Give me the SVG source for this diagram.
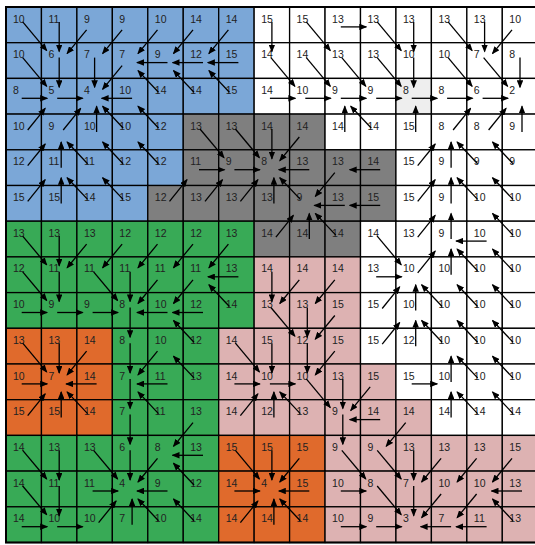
<svg xmlns="http://www.w3.org/2000/svg" width="535" height="545" viewBox="0 0 535 545">
<style>
.c rect{stroke:#000;stroke-width:1.3}
.b rect{fill:#7ba7d7}.g rect{fill:#7f7f7f}.w rect{fill:#fff}.n rect{fill:#38aa56}.o rect{fill:#e06a2c}.p rect{fill:#ddb2b2}.l rect{fill:#eeeeee}
text{font-family:"Liberation Sans",Arial,sans-serif;font-size:10.5px;fill:#222}
#arrows path{fill:none;stroke:#000;stroke-width:1.3;marker-end:url(#ah)}
</style>
<defs><marker id="ah" viewBox="0 0 8 6.5" refX="7" refY="3.25" markerWidth="8" markerHeight="6.5" markerUnits="userSpaceOnUse" orient="auto"><path d="M0 0L8 3.25L0 6.5z" fill="#000"/></marker></defs>
<rect width="535" height="545" fill="#fff"/>
<g id="cells">
<g id="n0_0" class="c b" transform="translate(6 7)"><rect width="35.45" height="35.7"/><text x="7" y="15.5">10</text></g>
<g id="n0_1" class="c b" transform="translate(41.45 7)"><rect width="35.45" height="35.7"/><text x="7" y="15.5">11</text></g>
<g id="n0_2" class="c b" transform="translate(76.9 7)"><rect width="35.45" height="35.7"/><text x="7" y="15.5">9</text></g>
<g id="n0_3" class="c b" transform="translate(112.35 7)"><rect width="35.45" height="35.7"/><text x="7" y="15.5">9</text></g>
<g id="n0_4" class="c b" transform="translate(147.8 7)"><rect width="35.45" height="35.7"/><text x="7" y="15.5">10</text></g>
<g id="n0_5" class="c b" transform="translate(183.25 7)"><rect width="35.45" height="35.7"/><text x="7" y="15.5">14</text></g>
<g id="n0_6" class="c b" transform="translate(218.7 7)"><rect width="35.45" height="35.7"/><text x="7" y="15.5">14</text></g>
<g id="n0_7" class="c w" transform="translate(254.15 7)"><rect width="35.45" height="35.7"/><text x="7" y="15.5">15</text></g>
<g id="n0_8" class="c w" transform="translate(289.6 7)"><rect width="35.45" height="35.7"/><text x="7" y="15.5">15</text></g>
<g id="n0_9" class="c w" transform="translate(325.05 7)"><rect width="35.45" height="35.7"/><text x="7" y="15.5">13</text></g>
<g id="n0_10" class="c w" transform="translate(360.5 7)"><rect width="35.45" height="35.7"/><text x="7" y="15.5">13</text></g>
<g id="n0_11" class="c w" transform="translate(395.95 7)"><rect width="35.45" height="35.7"/><text x="7" y="15.5">13</text></g>
<g id="n0_12" class="c w" transform="translate(431.4 7)"><rect width="35.45" height="35.7"/><text x="7" y="15.5">13</text></g>
<g id="n0_13" class="c w" transform="translate(466.85 7)"><rect width="35.45" height="35.7"/><text x="7" y="15.5">13</text></g>
<g id="n0_14" class="c w" transform="translate(502.3 7)"><rect width="35.45" height="35.7"/><text x="7" y="15.5">10</text></g>

<g id="n1_0" class="c b" transform="translate(6 42.7)"><rect width="35.45" height="35.7"/><text x="7" y="15.5">10</text></g>
<g id="n1_1" class="c b" transform="translate(41.45 42.7)"><rect width="35.45" height="35.7"/><text x="7" y="15.5">6</text></g>
<g id="n1_2" class="c b" transform="translate(76.9 42.7)"><rect width="35.45" height="35.7"/><text x="7" y="15.5">7</text></g>
<g id="n1_3" class="c b" transform="translate(112.35 42.7)"><rect width="35.45" height="35.7"/><text x="7" y="15.5">7</text></g>
<g id="n1_4" class="c b" transform="translate(147.8 42.7)"><rect width="35.45" height="35.7"/><text x="7" y="15.5">9</text></g>
<g id="n1_5" class="c b" transform="translate(183.25 42.7)"><rect width="35.45" height="35.7"/><text x="7" y="15.5">12</text></g>
<g id="n1_6" class="c b" transform="translate(218.7 42.7)"><rect width="35.45" height="35.7"/><text x="7" y="15.5">15</text></g>
<g id="n1_7" class="c w" transform="translate(254.15 42.7)"><rect width="35.45" height="35.7"/><text x="7" y="15.5">14</text></g>
<g id="n1_8" class="c w" transform="translate(289.6 42.7)"><rect width="35.45" height="35.7"/><text x="7" y="15.5">14</text></g>
<g id="n1_9" class="c w" transform="translate(325.05 42.7)"><rect width="35.45" height="35.7"/><text x="7" y="15.5">13</text></g>
<g id="n1_10" class="c w" transform="translate(360.5 42.7)"><rect width="35.45" height="35.7"/><text x="7" y="15.5">13</text></g>
<g id="n1_11" class="c w" transform="translate(395.95 42.7)"><rect width="35.45" height="35.7"/><text x="7" y="15.5">10</text></g>
<g id="n1_12" class="c w" transform="translate(431.4 42.7)"><rect width="35.45" height="35.7"/><text x="7" y="15.5">10</text></g>
<g id="n1_13" class="c w" transform="translate(466.85 42.7)"><rect width="35.45" height="35.7"/><text x="7" y="15.5">7</text></g>
<g id="n1_14" class="c w" transform="translate(502.3 42.7)"><rect width="35.45" height="35.7"/><text x="7" y="15.5">8</text></g>

<g id="n2_0" class="c b" transform="translate(6 78.4)"><rect width="35.45" height="35.7"/><text x="7" y="15.5">8</text></g>
<g id="n2_1" class="c b" transform="translate(41.45 78.4)"><rect width="35.45" height="35.7"/><text x="7" y="15.5">5</text></g>
<g id="n2_2" class="c b" transform="translate(76.9 78.4)"><rect width="35.45" height="35.7"/><text x="7" y="15.5">4</text></g>
<g id="n2_3" class="c b" transform="translate(112.35 78.4)"><rect width="35.45" height="35.7"/><text x="7" y="15.5">10</text></g>
<g id="n2_4" class="c b" transform="translate(147.8 78.4)"><rect width="35.45" height="35.7"/><text x="7" y="15.5">14</text></g>
<g id="n2_5" class="c b" transform="translate(183.25 78.4)"><rect width="35.45" height="35.7"/><text x="7" y="15.5">14</text></g>
<g id="n2_6" class="c b" transform="translate(218.7 78.4)"><rect width="35.45" height="35.7"/><text x="7" y="15.5">15</text></g>
<g id="n2_7" class="c w" transform="translate(254.15 78.4)"><rect width="35.45" height="35.7"/><text x="7" y="15.5">14</text></g>
<g id="n2_8" class="c w" transform="translate(289.6 78.4)"><rect width="35.45" height="35.7"/><text x="7" y="15.5">10</text></g>
<g id="n2_9" class="c w" transform="translate(325.05 78.4)"><rect width="35.45" height="35.7"/><text x="7" y="15.5">9</text></g>
<g id="n2_10" class="c w" transform="translate(360.5 78.4)"><rect width="35.45" height="35.7"/><text x="7" y="15.5">9</text></g>
<g id="n2_11" class="c l" transform="translate(395.95 78.4)"><rect width="35.45" height="35.7"/><text x="7" y="15.5">8</text></g>
<g id="n2_12" class="c w" transform="translate(431.4 78.4)"><rect width="35.45" height="35.7"/><text x="7" y="15.5">8</text></g>
<g id="n2_13" class="c w" transform="translate(466.85 78.4)"><rect width="35.45" height="35.7"/><text x="7" y="15.5">6</text></g>
<g id="n2_14" class="c w" transform="translate(502.3 78.4)"><rect width="35.45" height="35.7"/><text x="7" y="15.5">2</text></g>

<g id="n3_0" class="c b" transform="translate(6 114.1)"><rect width="35.45" height="35.7"/><text x="7" y="15.5">10</text></g>
<g id="n3_1" class="c b" transform="translate(41.45 114.1)"><rect width="35.45" height="35.7"/><text x="7" y="15.5">9</text></g>
<g id="n3_2" class="c b" transform="translate(76.9 114.1)"><rect width="35.45" height="35.7"/><text x="7" y="15.5">10</text></g>
<g id="n3_3" class="c b" transform="translate(112.35 114.1)"><rect width="35.45" height="35.7"/><text x="7" y="15.5">10</text></g>
<g id="n3_4" class="c b" transform="translate(147.8 114.1)"><rect width="35.45" height="35.7"/><text x="7" y="15.5">12</text></g>
<g id="n3_5" class="c g" transform="translate(183.25 114.1)"><rect width="35.45" height="35.7"/><text x="7" y="15.5">13</text></g>
<g id="n3_6" class="c g" transform="translate(218.7 114.1)"><rect width="35.45" height="35.7"/><text x="7" y="15.5">13</text></g>
<g id="n3_7" class="c g" transform="translate(254.15 114.1)"><rect width="35.45" height="35.7"/><text x="7" y="15.5">14</text></g>
<g id="n3_8" class="c g" transform="translate(289.6 114.1)"><rect width="35.45" height="35.7"/><text x="7" y="15.5">14</text></g>
<g id="n3_9" class="c w" transform="translate(325.05 114.1)"><rect width="35.45" height="35.7"/><text x="7" y="15.5">14</text></g>
<g id="n3_10" class="c w" transform="translate(360.5 114.1)"><rect width="35.45" height="35.7"/><text x="7" y="15.5">14</text></g>
<g id="n3_11" class="c w" transform="translate(395.95 114.1)"><rect width="35.45" height="35.7"/><text x="7" y="15.5">15</text></g>
<g id="n3_12" class="c w" transform="translate(431.4 114.1)"><rect width="35.45" height="35.7"/><text x="7" y="15.5">8</text></g>
<g id="n3_13" class="c w" transform="translate(466.85 114.1)"><rect width="35.45" height="35.7"/><text x="7" y="15.5">8</text></g>
<g id="n3_14" class="c w" transform="translate(502.3 114.1)"><rect width="35.45" height="35.7"/><text x="7" y="15.5">9</text></g>

<g id="n4_0" class="c b" transform="translate(6 149.8)"><rect width="35.45" height="35.7"/><text x="7" y="15.5">12</text></g>
<g id="n4_1" class="c b" transform="translate(41.45 149.8)"><rect width="35.45" height="35.7"/><text x="7" y="15.5">11</text></g>
<g id="n4_2" class="c b" transform="translate(76.9 149.8)"><rect width="35.45" height="35.7"/><text x="7" y="15.5">11</text></g>
<g id="n4_3" class="c b" transform="translate(112.35 149.8)"><rect width="35.45" height="35.7"/><text x="7" y="15.5">12</text></g>
<g id="n4_4" class="c b" transform="translate(147.8 149.8)"><rect width="35.45" height="35.7"/><text x="7" y="15.5">12</text></g>
<g id="n4_5" class="c g" transform="translate(183.25 149.8)"><rect width="35.45" height="35.7"/><text x="7" y="15.5">11</text></g>
<g id="n4_6" class="c g" transform="translate(218.7 149.8)"><rect width="35.45" height="35.7"/><text x="7" y="15.5">9</text></g>
<g id="n4_7" class="c g" transform="translate(254.15 149.8)"><rect width="35.45" height="35.7"/><text x="7" y="15.5">8</text></g>
<g id="n4_8" class="c g" transform="translate(289.6 149.8)"><rect width="35.45" height="35.7"/><text x="7" y="15.5">13</text></g>
<g id="n4_9" class="c g" transform="translate(325.05 149.8)"><rect width="35.45" height="35.7"/><text x="7" y="15.5">13</text></g>
<g id="n4_10" class="c g" transform="translate(360.5 149.8)"><rect width="35.45" height="35.7"/><text x="7" y="15.5">14</text></g>
<g id="n4_11" class="c w" transform="translate(395.95 149.8)"><rect width="35.45" height="35.7"/><text x="7" y="15.5">15</text></g>
<g id="n4_12" class="c w" transform="translate(431.4 149.8)"><rect width="35.45" height="35.7"/><text x="7" y="15.5">9</text></g>
<g id="n4_13" class="c w" transform="translate(466.85 149.8)"><rect width="35.45" height="35.7"/><text x="7" y="15.5">9</text></g>
<g id="n4_14" class="c w" transform="translate(502.3 149.8)"><rect width="35.45" height="35.7"/><text x="7" y="15.5">9</text></g>

<g id="n5_0" class="c b" transform="translate(6 185.5)"><rect width="35.45" height="35.7"/><text x="7" y="15.5">15</text></g>
<g id="n5_1" class="c b" transform="translate(41.45 185.5)"><rect width="35.45" height="35.7"/><text x="7" y="15.5">15</text></g>
<g id="n5_2" class="c b" transform="translate(76.9 185.5)"><rect width="35.45" height="35.7"/><text x="7" y="15.5">14</text></g>
<g id="n5_3" class="c b" transform="translate(112.35 185.5)"><rect width="35.45" height="35.7"/><text x="7" y="15.5">15</text></g>
<g id="n5_4" class="c g" transform="translate(147.8 185.5)"><rect width="35.45" height="35.7"/><text x="7" y="15.5">12</text></g>
<g id="n5_5" class="c g" transform="translate(183.25 185.5)"><rect width="35.45" height="35.7"/><text x="7" y="15.5">13</text></g>
<g id="n5_6" class="c g" transform="translate(218.7 185.5)"><rect width="35.45" height="35.7"/><text x="7" y="15.5">13</text></g>
<g id="n5_7" class="c g" transform="translate(254.15 185.5)"><rect width="35.45" height="35.7"/><text x="7" y="15.5">13</text></g>
<g id="n5_8" class="c g" transform="translate(289.6 185.5)"><rect width="35.45" height="35.7"/><text x="7" y="15.5">9</text></g>
<g id="n5_9" class="c g" transform="translate(325.05 185.5)"><rect width="35.45" height="35.7"/><text x="7" y="15.5">13</text></g>
<g id="n5_10" class="c g" transform="translate(360.5 185.5)"><rect width="35.45" height="35.7"/><text x="7" y="15.5">15</text></g>
<g id="n5_11" class="c w" transform="translate(395.95 185.5)"><rect width="35.45" height="35.7"/><text x="7" y="15.5">15</text></g>
<g id="n5_12" class="c w" transform="translate(431.4 185.5)"><rect width="35.45" height="35.7"/><text x="7" y="15.5">9</text></g>
<g id="n5_13" class="c w" transform="translate(466.85 185.5)"><rect width="35.45" height="35.7"/><text x="7" y="15.5">10</text></g>
<g id="n5_14" class="c w" transform="translate(502.3 185.5)"><rect width="35.45" height="35.7"/><text x="7" y="15.5">10</text></g>

<g id="n6_0" class="c n" transform="translate(6 221.2)"><rect width="35.45" height="35.7"/><text x="7" y="15.5">13</text></g>
<g id="n6_1" class="c n" transform="translate(41.45 221.2)"><rect width="35.45" height="35.7"/><text x="7" y="15.5">13</text></g>
<g id="n6_2" class="c n" transform="translate(76.9 221.2)"><rect width="35.45" height="35.7"/><text x="7" y="15.5">13</text></g>
<g id="n6_3" class="c n" transform="translate(112.35 221.2)"><rect width="35.45" height="35.7"/><text x="7" y="15.5">12</text></g>
<g id="n6_4" class="c n" transform="translate(147.8 221.2)"><rect width="35.45" height="35.7"/><text x="7" y="15.5">12</text></g>
<g id="n6_5" class="c n" transform="translate(183.25 221.2)"><rect width="35.45" height="35.7"/><text x="7" y="15.5">12</text></g>
<g id="n6_6" class="c n" transform="translate(218.7 221.2)"><rect width="35.45" height="35.7"/><text x="7" y="15.5">13</text></g>
<g id="n6_7" class="c g" transform="translate(254.15 221.2)"><rect width="35.45" height="35.7"/><text x="7" y="15.5">14</text></g>
<g id="n6_8" class="c g" transform="translate(289.6 221.2)"><rect width="35.45" height="35.7"/><text x="7" y="15.5">14</text></g>
<g id="n6_9" class="c g" transform="translate(325.05 221.2)"><rect width="35.45" height="35.7"/><text x="7" y="15.5">14</text></g>
<g id="n6_10" class="c w" transform="translate(360.5 221.2)"><rect width="35.45" height="35.7"/><text x="7" y="15.5">14</text></g>
<g id="n6_11" class="c w" transform="translate(395.95 221.2)"><rect width="35.45" height="35.7"/><text x="7" y="15.5">13</text></g>
<g id="n6_12" class="c w" transform="translate(431.4 221.2)"><rect width="35.45" height="35.7"/><text x="7" y="15.5">9</text></g>
<g id="n6_13" class="c w" transform="translate(466.85 221.2)"><rect width="35.45" height="35.7"/><text x="7" y="15.5">10</text></g>
<g id="n6_14" class="c w" transform="translate(502.3 221.2)"><rect width="35.45" height="35.7"/><text x="7" y="15.5">10</text></g>

<g id="n7_0" class="c n" transform="translate(6 256.9)"><rect width="35.45" height="35.7"/><text x="7" y="15.5">12</text></g>
<g id="n7_1" class="c n" transform="translate(41.45 256.9)"><rect width="35.45" height="35.7"/><text x="7" y="15.5">11</text></g>
<g id="n7_2" class="c n" transform="translate(76.9 256.9)"><rect width="35.45" height="35.7"/><text x="7" y="15.5">11</text></g>
<g id="n7_3" class="c n" transform="translate(112.35 256.9)"><rect width="35.45" height="35.7"/><text x="7" y="15.5">11</text></g>
<g id="n7_4" class="c n" transform="translate(147.8 256.9)"><rect width="35.45" height="35.7"/><text x="7" y="15.5">11</text></g>
<g id="n7_5" class="c n" transform="translate(183.25 256.9)"><rect width="35.45" height="35.7"/><text x="7" y="15.5">11</text></g>
<g id="n7_6" class="c n" transform="translate(218.7 256.9)"><rect width="35.45" height="35.7"/><text x="7" y="15.5">13</text></g>
<g id="n7_7" class="c p" transform="translate(254.15 256.9)"><rect width="35.45" height="35.7"/><text x="7" y="15.5">14</text></g>
<g id="n7_8" class="c p" transform="translate(289.6 256.9)"><rect width="35.45" height="35.7"/><text x="7" y="15.5">14</text></g>
<g id="n7_9" class="c p" transform="translate(325.05 256.9)"><rect width="35.45" height="35.7"/><text x="7" y="15.5">14</text></g>
<g id="n7_10" class="c w" transform="translate(360.5 256.9)"><rect width="35.45" height="35.7"/><text x="7" y="15.5">13</text></g>
<g id="n7_11" class="c w" transform="translate(395.95 256.9)"><rect width="35.45" height="35.7"/><text x="7" y="15.5">10</text></g>
<g id="n7_12" class="c w" transform="translate(431.4 256.9)"><rect width="35.45" height="35.7"/><text x="7" y="15.5">10</text></g>
<g id="n7_13" class="c w" transform="translate(466.85 256.9)"><rect width="35.45" height="35.7"/><text x="7" y="15.5">10</text></g>
<g id="n7_14" class="c w" transform="translate(502.3 256.9)"><rect width="35.45" height="35.7"/><text x="7" y="15.5">10</text></g>

<g id="n8_0" class="c n" transform="translate(6 292.6)"><rect width="35.45" height="35.7"/><text x="7" y="15.5">10</text></g>
<g id="n8_1" class="c n" transform="translate(41.45 292.6)"><rect width="35.45" height="35.7"/><text x="7" y="15.5">9</text></g>
<g id="n8_2" class="c n" transform="translate(76.9 292.6)"><rect width="35.45" height="35.7"/><text x="7" y="15.5">9</text></g>
<g id="n8_3" class="c n" transform="translate(112.35 292.6)"><rect width="35.45" height="35.7"/><text x="7" y="15.5">8</text></g>
<g id="n8_4" class="c n" transform="translate(147.8 292.6)"><rect width="35.45" height="35.7"/><text x="7" y="15.5">10</text></g>
<g id="n8_5" class="c n" transform="translate(183.25 292.6)"><rect width="35.45" height="35.7"/><text x="7" y="15.5">12</text></g>
<g id="n8_6" class="c n" transform="translate(218.7 292.6)"><rect width="35.45" height="35.7"/><text x="7" y="15.5">14</text></g>
<g id="n8_7" class="c p" transform="translate(254.15 292.6)"><rect width="35.45" height="35.7"/><text x="7" y="15.5">13</text></g>
<g id="n8_8" class="c p" transform="translate(289.6 292.6)"><rect width="35.45" height="35.7"/><text x="7" y="15.5">13</text></g>
<g id="n8_9" class="c p" transform="translate(325.05 292.6)"><rect width="35.45" height="35.7"/><text x="7" y="15.5">15</text></g>
<g id="n8_10" class="c w" transform="translate(360.5 292.6)"><rect width="35.45" height="35.7"/><text x="7" y="15.5">15</text></g>
<g id="n8_11" class="c w" transform="translate(395.95 292.6)"><rect width="35.45" height="35.7"/><text x="7" y="15.5">10</text></g>
<g id="n8_12" class="c w" transform="translate(431.4 292.6)"><rect width="35.45" height="35.7"/><text x="7" y="15.5">10</text></g>
<g id="n8_13" class="c w" transform="translate(466.85 292.6)"><rect width="35.45" height="35.7"/><text x="7" y="15.5">10</text></g>
<g id="n8_14" class="c w" transform="translate(502.3 292.6)"><rect width="35.45" height="35.7"/><text x="7" y="15.5">10</text></g>

<g id="n9_0" class="c o" transform="translate(6 328.3)"><rect width="35.45" height="35.7"/><text x="7" y="15.5">13</text></g>
<g id="n9_1" class="c o" transform="translate(41.45 328.3)"><rect width="35.45" height="35.7"/><text x="7" y="15.5">13</text></g>
<g id="n9_2" class="c o" transform="translate(76.9 328.3)"><rect width="35.45" height="35.7"/><text x="7" y="15.5">14</text></g>
<g id="n9_3" class="c n" transform="translate(112.35 328.3)"><rect width="35.45" height="35.7"/><text x="7" y="15.5">8</text></g>
<g id="n9_4" class="c n" transform="translate(147.8 328.3)"><rect width="35.45" height="35.7"/><text x="7" y="15.5">10</text></g>
<g id="n9_5" class="c n" transform="translate(183.25 328.3)"><rect width="35.45" height="35.7"/><text x="7" y="15.5">12</text></g>
<g id="n9_6" class="c p" transform="translate(218.7 328.3)"><rect width="35.45" height="35.7"/><text x="7" y="15.5">14</text></g>
<g id="n9_7" class="c p" transform="translate(254.15 328.3)"><rect width="35.45" height="35.7"/><text x="7" y="15.5">15</text></g>
<g id="n9_8" class="c p" transform="translate(289.6 328.3)"><rect width="35.45" height="35.7"/><text x="7" y="15.5">12</text></g>
<g id="n9_9" class="c p" transform="translate(325.05 328.3)"><rect width="35.45" height="35.7"/><text x="7" y="15.5">15</text></g>
<g id="n9_10" class="c w" transform="translate(360.5 328.3)"><rect width="35.45" height="35.7"/><text x="7" y="15.5">15</text></g>
<g id="n9_11" class="c w" transform="translate(395.95 328.3)"><rect width="35.45" height="35.7"/><text x="7" y="15.5">12</text></g>
<g id="n9_12" class="c w" transform="translate(431.4 328.3)"><rect width="35.45" height="35.7"/><text x="7" y="15.5">10</text></g>
<g id="n9_13" class="c w" transform="translate(466.85 328.3)"><rect width="35.45" height="35.7"/><text x="7" y="15.5">10</text></g>
<g id="n9_14" class="c w" transform="translate(502.3 328.3)"><rect width="35.45" height="35.7"/><text x="7" y="15.5">10</text></g>

<g id="n10_0" class="c o" transform="translate(6 364)"><rect width="35.45" height="35.7"/><text x="7" y="15.5">10</text></g>
<g id="n10_1" class="c o" transform="translate(41.45 364)"><rect width="35.45" height="35.7"/><text x="7" y="15.5">7</text></g>
<g id="n10_2" class="c o" transform="translate(76.9 364)"><rect width="35.45" height="35.7"/><text x="7" y="15.5">14</text></g>
<g id="n10_3" class="c n" transform="translate(112.35 364)"><rect width="35.45" height="35.7"/><text x="7" y="15.5">7</text></g>
<g id="n10_4" class="c n" transform="translate(147.8 364)"><rect width="35.45" height="35.7"/><text x="7" y="15.5">11</text></g>
<g id="n10_5" class="c n" transform="translate(183.25 364)"><rect width="35.45" height="35.7"/><text x="7" y="15.5">13</text></g>
<g id="n10_6" class="c p" transform="translate(218.7 364)"><rect width="35.45" height="35.7"/><text x="7" y="15.5">14</text></g>
<g id="n10_7" class="c p" transform="translate(254.15 364)"><rect width="35.45" height="35.7"/><text x="7" y="15.5">10</text></g>
<g id="n10_8" class="c p" transform="translate(289.6 364)"><rect width="35.45" height="35.7"/><text x="7" y="15.5">10</text></g>
<g id="n10_9" class="c p" transform="translate(325.05 364)"><rect width="35.45" height="35.7"/><text x="7" y="15.5">13</text></g>
<g id="n10_10" class="c p" transform="translate(360.5 364)"><rect width="35.45" height="35.7"/><text x="7" y="15.5">15</text></g>
<g id="n10_11" class="c w" transform="translate(395.95 364)"><rect width="35.45" height="35.7"/><text x="7" y="15.5">15</text></g>
<g id="n10_12" class="c w" transform="translate(431.4 364)"><rect width="35.45" height="35.7"/><text x="7" y="15.5">10</text></g>
<g id="n10_13" class="c w" transform="translate(466.85 364)"><rect width="35.45" height="35.7"/><text x="7" y="15.5">10</text></g>
<g id="n10_14" class="c w" transform="translate(502.3 364)"><rect width="35.45" height="35.7"/><text x="7" y="15.5">10</text></g>

<g id="n11_0" class="c o" transform="translate(6 399.7)"><rect width="35.45" height="35.7"/><text x="7" y="15.5">15</text></g>
<g id="n11_1" class="c o" transform="translate(41.45 399.7)"><rect width="35.45" height="35.7"/><text x="7" y="15.5">15</text></g>
<g id="n11_2" class="c o" transform="translate(76.9 399.7)"><rect width="35.45" height="35.7"/><text x="7" y="15.5">14</text></g>
<g id="n11_3" class="c n" transform="translate(112.35 399.7)"><rect width="35.45" height="35.7"/><text x="7" y="15.5">7</text></g>
<g id="n11_4" class="c n" transform="translate(147.8 399.7)"><rect width="35.45" height="35.7"/><text x="7" y="15.5">11</text></g>
<g id="n11_5" class="c n" transform="translate(183.25 399.7)"><rect width="35.45" height="35.7"/><text x="7" y="15.5">13</text></g>
<g id="n11_6" class="c p" transform="translate(218.7 399.7)"><rect width="35.45" height="35.7"/><text x="7" y="15.5">14</text></g>
<g id="n11_7" class="c p" transform="translate(254.15 399.7)"><rect width="35.45" height="35.7"/><text x="7" y="15.5">12</text></g>
<g id="n11_8" class="c p" transform="translate(289.6 399.7)"><rect width="35.45" height="35.7"/><text x="7" y="15.5">13</text></g>
<g id="n11_9" class="c p" transform="translate(325.05 399.7)"><rect width="35.45" height="35.7"/><text x="7" y="15.5">9</text></g>
<g id="n11_10" class="c p" transform="translate(360.5 399.7)"><rect width="35.45" height="35.7"/><text x="7" y="15.5">14</text></g>
<g id="n11_11" class="c p" transform="translate(395.95 399.7)"><rect width="35.45" height="35.7"/><text x="7" y="15.5">14</text></g>
<g id="n11_12" class="c w" transform="translate(431.4 399.7)"><rect width="35.45" height="35.7"/><text x="7" y="15.5">14</text></g>
<g id="n11_13" class="c w" transform="translate(466.85 399.7)"><rect width="35.45" height="35.7"/><text x="7" y="15.5">14</text></g>
<g id="n11_14" class="c w" transform="translate(502.3 399.7)"><rect width="35.45" height="35.7"/><text x="7" y="15.5">14</text></g>

<g id="n12_0" class="c n" transform="translate(6 435.4)"><rect width="35.45" height="35.7"/><text x="7" y="15.5">14</text></g>
<g id="n12_1" class="c n" transform="translate(41.45 435.4)"><rect width="35.45" height="35.7"/><text x="7" y="15.5">13</text></g>
<g id="n12_2" class="c n" transform="translate(76.9 435.4)"><rect width="35.45" height="35.7"/><text x="7" y="15.5">13</text></g>
<g id="n12_3" class="c n" transform="translate(112.35 435.4)"><rect width="35.45" height="35.7"/><text x="7" y="15.5">6</text></g>
<g id="n12_4" class="c n" transform="translate(147.8 435.4)"><rect width="35.45" height="35.7"/><text x="7" y="15.5">8</text></g>
<g id="n12_5" class="c n" transform="translate(183.25 435.4)"><rect width="35.45" height="35.7"/><text x="7" y="15.5">13</text></g>
<g id="n12_6" class="c o" transform="translate(218.7 435.4)"><rect width="35.45" height="35.7"/><text x="7" y="15.5">15</text></g>
<g id="n12_7" class="c o" transform="translate(254.15 435.4)"><rect width="35.45" height="35.7"/><text x="7" y="15.5">15</text></g>
<g id="n12_8" class="c o" transform="translate(289.6 435.4)"><rect width="35.45" height="35.7"/><text x="7" y="15.5">15</text></g>
<g id="n12_9" class="c p" transform="translate(325.05 435.4)"><rect width="35.45" height="35.7"/><text x="7" y="15.5">9</text></g>
<g id="n12_10" class="c p" transform="translate(360.5 435.4)"><rect width="35.45" height="35.7"/><text x="7" y="15.5">9</text></g>
<g id="n12_11" class="c p" transform="translate(395.95 435.4)"><rect width="35.45" height="35.7"/><text x="7" y="15.5">13</text></g>
<g id="n12_12" class="c p" transform="translate(431.4 435.4)"><rect width="35.45" height="35.7"/><text x="7" y="15.5">13</text></g>
<g id="n12_13" class="c p" transform="translate(466.85 435.4)"><rect width="35.45" height="35.7"/><text x="7" y="15.5">13</text></g>
<g id="n12_14" class="c p" transform="translate(502.3 435.4)"><rect width="35.45" height="35.7"/><text x="7" y="15.5">15</text></g>

<g id="n13_0" class="c n" transform="translate(6 471.1)"><rect width="35.45" height="35.7"/><text x="7" y="15.5">14</text></g>
<g id="n13_1" class="c n" transform="translate(41.45 471.1)"><rect width="35.45" height="35.7"/><text x="7" y="15.5">11</text></g>
<g id="n13_2" class="c n" transform="translate(76.9 471.1)"><rect width="35.45" height="35.7"/><text x="7" y="15.5">11</text></g>
<g id="n13_3" class="c n" transform="translate(112.35 471.1)"><rect width="35.45" height="35.7"/><text x="7" y="15.5">4</text></g>
<g id="n13_4" class="c n" transform="translate(147.8 471.1)"><rect width="35.45" height="35.7"/><text x="7" y="15.5">9</text></g>
<g id="n13_5" class="c n" transform="translate(183.25 471.1)"><rect width="35.45" height="35.7"/><text x="7" y="15.5">12</text></g>
<g id="n13_6" class="c o" transform="translate(218.7 471.1)"><rect width="35.45" height="35.7"/><text x="7" y="15.5">14</text></g>
<g id="n13_7" class="c o" transform="translate(254.15 471.1)"><rect width="35.45" height="35.7"/><text x="7" y="15.5">4</text></g>
<g id="n13_8" class="c o" transform="translate(289.6 471.1)"><rect width="35.45" height="35.7"/><text x="7" y="15.5">15</text></g>
<g id="n13_9" class="c p" transform="translate(325.05 471.1)"><rect width="35.45" height="35.7"/><text x="7" y="15.5">10</text></g>
<g id="n13_10" class="c p" transform="translate(360.5 471.1)"><rect width="35.45" height="35.7"/><text x="7" y="15.5">8</text></g>
<g id="n13_11" class="c p" transform="translate(395.95 471.1)"><rect width="35.45" height="35.7"/><text x="7" y="15.5">7</text></g>
<g id="n13_12" class="c p" transform="translate(431.4 471.1)"><rect width="35.45" height="35.7"/><text x="7" y="15.5">10</text></g>
<g id="n13_13" class="c p" transform="translate(466.85 471.1)"><rect width="35.45" height="35.7"/><text x="7" y="15.5">10</text></g>
<g id="n13_14" class="c p" transform="translate(502.3 471.1)"><rect width="35.45" height="35.7"/><text x="7" y="15.5">13</text></g>

<g id="n14_0" class="c n" transform="translate(6 506.8)"><rect width="35.45" height="35.7"/><text x="7" y="15.5">14</text></g>
<g id="n14_1" class="c n" transform="translate(41.45 506.8)"><rect width="35.45" height="35.7"/><text x="7" y="15.5">10</text></g>
<g id="n14_2" class="c n" transform="translate(76.9 506.8)"><rect width="35.45" height="35.7"/><text x="7" y="15.5">10</text></g>
<g id="n14_3" class="c n" transform="translate(112.35 506.8)"><rect width="35.45" height="35.7"/><text x="7" y="15.5">7</text></g>
<g id="n14_4" class="c n" transform="translate(147.8 506.8)"><rect width="35.45" height="35.7"/><text x="7" y="15.5">10</text></g>
<g id="n14_5" class="c n" transform="translate(183.25 506.8)"><rect width="35.45" height="35.7"/><text x="7" y="15.5">14</text></g>
<g id="n14_6" class="c o" transform="translate(218.7 506.8)"><rect width="35.45" height="35.7"/><text x="7" y="15.5">14</text></g>
<g id="n14_7" class="c o" transform="translate(254.15 506.8)"><rect width="35.45" height="35.7"/><text x="7" y="15.5">14</text></g>
<g id="n14_8" class="c o" transform="translate(289.6 506.8)"><rect width="35.45" height="35.7"/><text x="7" y="15.5">14</text></g>
<g id="n14_9" class="c p" transform="translate(325.05 506.8)"><rect width="35.45" height="35.7"/><text x="7" y="15.5">10</text></g>
<g id="n14_10" class="c p" transform="translate(360.5 506.8)"><rect width="35.45" height="35.7"/><text x="7" y="15.5">9</text></g>
<g id="n14_11" class="c p" transform="translate(395.95 506.8)"><rect width="35.45" height="35.7"/><text x="7" y="15.5">3</text></g>
<g id="n14_12" class="c p" transform="translate(431.4 506.8)"><rect width="35.45" height="35.7"/><text x="7" y="15.5">7</text></g>
<g id="n14_13" class="c p" transform="translate(466.85 506.8)"><rect width="35.45" height="35.7"/><text x="7" y="15.5">11</text></g>
<g id="n14_14" class="c p" transform="translate(502.3 506.8)"><rect width="35.45" height="35.7"/><text x="7" y="15.5">13</text></g>
</g>
<rect x="6" y="7" width="540" height="535.5" fill="none" stroke="#000" stroke-width="2"/>
<g id="arrows">
<path transform="translate(23.7 24.9)" d="M-1-3L23 25.7"/>
<path transform="translate(59.2 24.9)" d="M0-3V26.7"/>
<path transform="translate(94.6 24.9)" d="M-8 5L-27.5 28.7"/>
<path transform="translate(130.1 24.9)" d="M-8 5L-27.5 28.7"/>
<path transform="translate(165.5 24.9)" d="M-8 5L-27.5 28.7"/>
<path transform="translate(201 24.9)" d="M-8 5L-27.5 28.7"/>
<path transform="translate(236.4 24.9)" d="M-8 5L-27.5 28.7"/>
<path transform="translate(271.9 24.9)" d="M0-3V26.7"/>
<path transform="translate(307.3 24.9)" d="M-1-3L23 25.7"/>
<path transform="translate(342.8 24.9)" d="M-2 2H23.5"/>
<path transform="translate(378.2 24.9)" d="M-1-3L23 25.7"/>
<path transform="translate(413.7 24.9)" d="M0-3V26.7"/>
<path transform="translate(449.1 24.9)" d="M-1-3L23 25.7"/>
<path transform="translate(484.6 24.9)" d="M0-3V26.7"/>
<path transform="translate(520 24.9)" d="M-8 5L-27.5 28.7"/>

<path transform="translate(23.7 60.6)" d="M-1-3L23 25.7"/>
<path transform="translate(59.2 60.6)" d="M0-3V26.7"/>
<path transform="translate(94.6 60.6)" d="M0-3V26.7"/>
<path transform="translate(130.1 60.6)" d="M-8 5L-27.5 28.7"/>
<path transform="translate(165.5 60.6)" d="M2 2H-28.5"/>
<path transform="translate(201 60.6)" d="M2 2H-28.5"/>
<path transform="translate(236.4 60.6)" d="M2 2H-28.5"/>
<path transform="translate(271.9 60.6)" d="M-1-3L23 25.7"/>
<path transform="translate(307.3 60.6)" d="M-1-3L23 25.7"/>
<path transform="translate(342.8 60.6)" d="M-1-3L23 25.7"/>
<path transform="translate(378.2 60.6)" d="M-1-3L23 25.7"/>
<path transform="translate(413.7 60.6)" d="M0-3V26.7"/>
<path transform="translate(449.1 60.6)" d="M-1-3L23 25.7"/>
<path transform="translate(484.6 60.6)" d="M-1-3L23 25.7"/>
<path transform="translate(520 60.6)" d="M0-3V26.7"/>

<path transform="translate(23.7 96.3)" d="M-2 2H23.5"/>
<path transform="translate(59.2 96.3)" d="M-2 2H23.5"/>
<path transform="translate(130.1 96.3)" d="M2 2H-28.5"/>
<path transform="translate(165.5 96.3)" d="M-7-4L-27.5-25.7"/>
<path transform="translate(201 96.3)" d="M-7-4L-27.5-25.7"/>
<path transform="translate(236.4 96.3)" d="M-7-4L-27.5-25.7"/>
<path transform="translate(271.9 96.3)" d="M-2 2H23.5"/>
<path transform="translate(307.3 96.3)" d="M-2 2H23.5"/>
<path transform="translate(342.8 96.3)" d="M-2 2H23.5"/>
<path transform="translate(378.2 96.3)" d="M-2 2H23.5"/>
<path transform="translate(413.7 96.3)" d="M-2 2H23.5"/>
<path transform="translate(449.1 96.3)" d="M-2 2H23.5"/>
<path transform="translate(484.6 96.3)" d="M-2 2H23.5"/>

<path transform="translate(23.7 132)" d="M4-2L21.5-23.7"/>
<path transform="translate(59.2 132)" d="M4-2L21.5-23.7"/>
<path transform="translate(94.6 132)" d="M2 0V-25.7"/>
<path transform="translate(130.1 132)" d="M-7-4L-27.5-25.7"/>
<path transform="translate(165.5 132)" d="M-7-4L-27.5-25.7"/>
<path transform="translate(201 132)" d="M-1-3L23 25.7"/>
<path transform="translate(236.4 132)" d="M-1-3L23 25.7"/>
<path transform="translate(271.9 132)" d="M0-3V26.7"/>
<path transform="translate(307.3 132)" d="M-8 5L-27.5 28.7"/>
<path transform="translate(342.8 132)" d="M2 0V-25.7"/>
<path transform="translate(378.2 132)" d="M-7-4L-27.5-25.7"/>
<path transform="translate(413.7 132)" d="M2 0V-25.7"/>
<path transform="translate(449.1 132)" d="M4-2L21.5-23.7"/>
<path transform="translate(484.6 132)" d="M4-2L21.5-23.7"/>
<path transform="translate(520 132)" d="M2 0V-25.7"/>

<path transform="translate(23.7 167.7)" d="M4-2L21.5-23.7"/>
<path transform="translate(59.2 167.7)" d="M2 0V-25.7"/>
<path transform="translate(94.6 167.7)" d="M-7-4L-27.5-25.7"/>
<path transform="translate(130.1 167.7)" d="M-7-4L-27.5-25.7"/>
<path transform="translate(165.5 167.7)" d="M-7-4L-27.5-25.7"/>
<path transform="translate(201 167.7)" d="M-2 2H23.5"/>
<path transform="translate(236.4 167.7)" d="M-2 2H23.5"/>
<path transform="translate(307.3 167.7)" d="M2 2H-28.5"/>
<path transform="translate(342.8 167.7)" d="M-8 5L-27.5 28.7"/>
<path transform="translate(378.2 167.7)" d="M2 2H-28.5"/>
<path transform="translate(413.7 167.7)" d="M4-2L21.5-23.7"/>
<path transform="translate(449.1 167.7)" d="M2 0V-25.7"/>
<path transform="translate(484.6 167.7)" d="M-7-4L-27.5-25.7"/>
<path transform="translate(520 167.7)" d="M-7-4L-27.5-25.7"/>

<path transform="translate(23.7 203.4)" d="M4-2L21.5-23.7"/>
<path transform="translate(59.2 203.4)" d="M2 0V-25.7"/>
<path transform="translate(94.6 203.4)" d="M-7-4L-27.5-25.7"/>
<path transform="translate(130.1 203.4)" d="M-7-4L-27.5-25.7"/>
<path transform="translate(165.5 203.4)" d="M4-2L21.5-23.7"/>
<path transform="translate(201 203.4)" d="M4-2L21.5-23.7"/>
<path transform="translate(236.4 203.4)" d="M4-2L21.5-23.7"/>
<path transform="translate(271.9 203.4)" d="M2 0V-25.7"/>
<path transform="translate(307.3 203.4)" d="M-7-4L-27.5-25.7"/>
<path transform="translate(342.8 203.4)" d="M2 2H-28.5"/>
<path transform="translate(378.2 203.4)" d="M2 2H-28.5"/>
<path transform="translate(413.7 203.4)" d="M4-2L21.5-23.7"/>
<path transform="translate(449.1 203.4)" d="M2 0V-25.7"/>
<path transform="translate(484.6 203.4)" d="M-7-4L-27.5-25.7"/>
<path transform="translate(520 203.4)" d="M-7-4L-27.5-25.7"/>

<path transform="translate(23.7 239.1)" d="M-1-3L23 25.7"/>
<path transform="translate(59.2 239.1)" d="M0-3V26.7"/>
<path transform="translate(94.6 239.1)" d="M-8 5L-27.5 28.7"/>
<path transform="translate(130.1 239.1)" d="M-8 5L-27.5 28.7"/>
<path transform="translate(165.5 239.1)" d="M-8 5L-27.5 28.7"/>
<path transform="translate(201 239.1)" d="M-8 5L-27.5 28.7"/>
<path transform="translate(236.4 239.1)" d="M-8 5L-27.5 28.7"/>
<path transform="translate(271.9 239.1)" d="M4-2L21.5-23.7"/>
<path transform="translate(307.3 239.1)" d="M2 0V-25.7"/>
<path transform="translate(342.8 239.1)" d="M-7-4L-27.5-25.7"/>
<path transform="translate(378.2 239.1)" d="M-1-3L23 25.7"/>
<path transform="translate(413.7 239.1)" d="M4-2L21.5-23.7"/>
<path transform="translate(449.1 239.1)" d="M2 0V-25.7"/>
<path transform="translate(484.6 239.1)" d="M2 2H-28.5"/>
<path transform="translate(520 239.1)" d="M-7-4L-27.5-25.7"/>

<path transform="translate(23.7 274.8)" d="M-1-3L23 25.7"/>
<path transform="translate(59.2 274.8)" d="M0-3V26.7"/>
<path transform="translate(94.6 274.8)" d="M-1-3L23 25.7"/>
<path transform="translate(130.1 274.8)" d="M0-3V26.7"/>
<path transform="translate(165.5 274.8)" d="M-8 5L-27.5 28.7"/>
<path transform="translate(201 274.8)" d="M-8 5L-27.5 28.7"/>
<path transform="translate(236.4 274.8)" d="M2 2H-28.5"/>
<path transform="translate(271.9 274.8)" d="M0-3V26.7"/>
<path transform="translate(307.3 274.8)" d="M-8 5L-27.5 28.7"/>
<path transform="translate(342.8 274.8)" d="M-8 5L-27.5 28.7"/>
<path transform="translate(378.2 274.8)" d="M-2 2H23.5"/>
<path transform="translate(413.7 274.8)" d="M4-2L21.5-23.7"/>
<path transform="translate(449.1 274.8)" d="M2 0V-25.7"/>
<path transform="translate(484.6 274.8)" d="M-7-4L-27.5-25.7"/>
<path transform="translate(520 274.8)" d="M-7-4L-27.5-25.7"/>

<path transform="translate(23.7 310.5)" d="M-2 2H23.5"/>
<path transform="translate(59.2 310.5)" d="M-2 2H23.5"/>
<path transform="translate(94.6 310.5)" d="M-2 2H23.5"/>
<path transform="translate(130.1 310.5)" d="M0-3V26.7"/>
<path transform="translate(165.5 310.5)" d="M2 2H-28.5"/>
<path transform="translate(201 310.5)" d="M2 2H-28.5"/>
<path transform="translate(236.4 310.5)" d="M-7-4L-27.5-25.7"/>
<path transform="translate(271.9 310.5)" d="M-1-3L23 25.7"/>
<path transform="translate(307.3 310.5)" d="M0-3V26.7"/>
<path transform="translate(342.8 310.5)" d="M-8 5L-27.5 28.7"/>
<path transform="translate(378.2 310.5)" d="M4-2L21.5-23.7"/>
<path transform="translate(413.7 310.5)" d="M2 0V-25.7"/>
<path transform="translate(449.1 310.5)" d="M-7-4L-27.5-25.7"/>
<path transform="translate(484.6 310.5)" d="M-7-4L-27.5-25.7"/>
<path transform="translate(520 310.5)" d="M-7-4L-27.5-25.7"/>

<path transform="translate(23.7 346.2)" d="M-1-3L23 25.7"/>
<path transform="translate(59.2 346.2)" d="M0-3V26.7"/>
<path transform="translate(94.6 346.2)" d="M-8 5L-27.5 28.7"/>
<path transform="translate(130.1 346.2)" d="M0-3V26.7"/>
<path transform="translate(165.5 346.2)" d="M-8 5L-27.5 28.7"/>
<path transform="translate(201 346.2)" d="M-7-4L-27.5-25.7"/>
<path transform="translate(236.4 346.2)" d="M-1-3L23 25.7"/>
<path transform="translate(271.9 346.2)" d="M0-3V26.7"/>
<path transform="translate(307.3 346.2)" d="M0-3V26.7"/>
<path transform="translate(342.8 346.2)" d="M-8 5L-27.5 28.7"/>
<path transform="translate(378.2 346.2)" d="M4-2L21.5-23.7"/>
<path transform="translate(413.7 346.2)" d="M2 0V-25.7"/>
<path transform="translate(449.1 346.2)" d="M-7-4L-27.5-25.7"/>
<path transform="translate(484.6 346.2)" d="M-7-4L-27.5-25.7"/>
<path transform="translate(520 346.2)" d="M-7-4L-27.5-25.7"/>

<path transform="translate(23.7 381.9)" d="M-2 2H23.5"/>
<path transform="translate(94.6 381.9)" d="M2 2H-28.5"/>
<path transform="translate(130.1 381.9)" d="M0-3V26.7"/>
<path transform="translate(165.5 381.9)" d="M2 2H-28.5"/>
<path transform="translate(201 381.9)" d="M-7-4L-27.5-25.7"/>
<path transform="translate(236.4 381.9)" d="M-2 2H23.5"/>
<path transform="translate(271.9 381.9)" d="M-2 2H23.5"/>
<path transform="translate(307.3 381.9)" d="M-1-3L23 25.7"/>
<path transform="translate(342.8 381.9)" d="M0-3V26.7"/>
<path transform="translate(378.2 381.9)" d="M-8 5L-27.5 28.7"/>
<path transform="translate(413.7 381.9)" d="M-2 2H23.5"/>
<path transform="translate(449.1 381.9)" d="M2 0V-25.7"/>
<path transform="translate(484.6 381.9)" d="M-7-4L-27.5-25.7"/>
<path transform="translate(520 381.9)" d="M-7-4L-27.5-25.7"/>

<path transform="translate(23.7 417.6)" d="M4-2L21.5-23.7"/>
<path transform="translate(59.2 417.6)" d="M2 0V-25.7"/>
<path transform="translate(94.6 417.6)" d="M-7-4L-27.5-25.7"/>
<path transform="translate(130.1 417.6)" d="M0-3V26.7"/>
<path transform="translate(165.5 417.6)" d="M-7-4L-27.5-25.7"/>
<path transform="translate(201 417.6)" d="M-8 5L-27.5 28.7"/>
<path transform="translate(236.4 417.6)" d="M4-2L21.5-23.7"/>
<path transform="translate(271.9 417.6)" d="M2 0V-25.7"/>
<path transform="translate(307.3 417.6)" d="M-7-4L-27.5-25.7"/>
<path transform="translate(342.8 417.6)" d="M0-3V26.7"/>
<path transform="translate(378.2 417.6)" d="M2 2H-28.5"/>
<path transform="translate(413.7 417.6)" d="M-8 5L-27.5 28.7"/>
<path transform="translate(449.1 417.6)" d="M2 0V-25.7"/>
<path transform="translate(484.6 417.6)" d="M-7-4L-27.5-25.7"/>
<path transform="translate(520 417.6)" d="M-7-4L-27.5-25.7"/>

<path transform="translate(23.7 453.3)" d="M-1-3L23 25.7"/>
<path transform="translate(59.2 453.3)" d="M0-3V26.7"/>
<path transform="translate(94.6 453.3)" d="M-1-3L23 25.7"/>
<path transform="translate(130.1 453.3)" d="M0-3V26.7"/>
<path transform="translate(165.5 453.3)" d="M-8 5L-27.5 28.7"/>
<path transform="translate(201 453.3)" d="M2 2H-28.5"/>
<path transform="translate(236.4 453.3)" d="M-1-3L23 25.7"/>
<path transform="translate(271.9 453.3)" d="M0-3V26.7"/>
<path transform="translate(307.3 453.3)" d="M-8 5L-27.5 28.7"/>
<path transform="translate(342.8 453.3)" d="M-1-3L23 25.7"/>
<path transform="translate(378.2 453.3)" d="M-1-3L23 25.7"/>
<path transform="translate(413.7 453.3)" d="M0-3V26.7"/>
<path transform="translate(449.1 453.3)" d="M-8 5L-27.5 28.7"/>
<path transform="translate(484.6 453.3)" d="M-8 5L-27.5 28.7"/>
<path transform="translate(520 453.3)" d="M-8 5L-27.5 28.7"/>

<path transform="translate(23.7 489)" d="M-1-3L23 25.7"/>
<path transform="translate(59.2 489)" d="M0-3V26.7"/>
<path transform="translate(94.6 489)" d="M-2 2H23.5"/>
<path transform="translate(165.5 489)" d="M2 2H-28.5"/>
<path transform="translate(201 489)" d="M-7-4L-27.5-25.7"/>
<path transform="translate(236.4 489)" d="M-2 2H23.5"/>
<path transform="translate(307.3 489)" d="M2 2H-28.5"/>
<path transform="translate(342.8 489)" d="M-2 2H23.5"/>
<path transform="translate(378.2 489)" d="M-1-3L23 25.7"/>
<path transform="translate(413.7 489)" d="M0-3V26.7"/>
<path transform="translate(449.1 489)" d="M-8 5L-27.5 28.7"/>
<path transform="translate(484.6 489)" d="M-8 5L-27.5 28.7"/>
<path transform="translate(520 489)" d="M2 2H-28.5"/>

<path transform="translate(23.7 524.7)" d="M-2 2H23.5"/>
<path transform="translate(59.2 524.7)" d="M-2 2H23.5"/>
<path transform="translate(94.6 524.7)" d="M4-2L21.5-23.7"/>
<path transform="translate(130.1 524.7)" d="M2 0V-25.7"/>
<path transform="translate(165.5 524.7)" d="M-7-4L-27.5-25.7"/>
<path transform="translate(201 524.7)" d="M-7-4L-27.5-25.7"/>
<path transform="translate(236.4 524.7)" d="M4-2L21.5-23.7"/>
<path transform="translate(271.9 524.7)" d="M2 0V-25.7"/>
<path transform="translate(307.3 524.7)" d="M-7-4L-27.5-25.7"/>
<path transform="translate(342.8 524.7)" d="M-2 2H23.5"/>
<path transform="translate(378.2 524.7)" d="M-2 2H23.5"/>
<path transform="translate(449.1 524.7)" d="M2 2H-28.5"/>
<path transform="translate(484.6 524.7)" d="M2 2H-28.5"/>
<path transform="translate(520 524.7)" d="M-7-4L-27.5-25.7"/>
</g>
</svg>
